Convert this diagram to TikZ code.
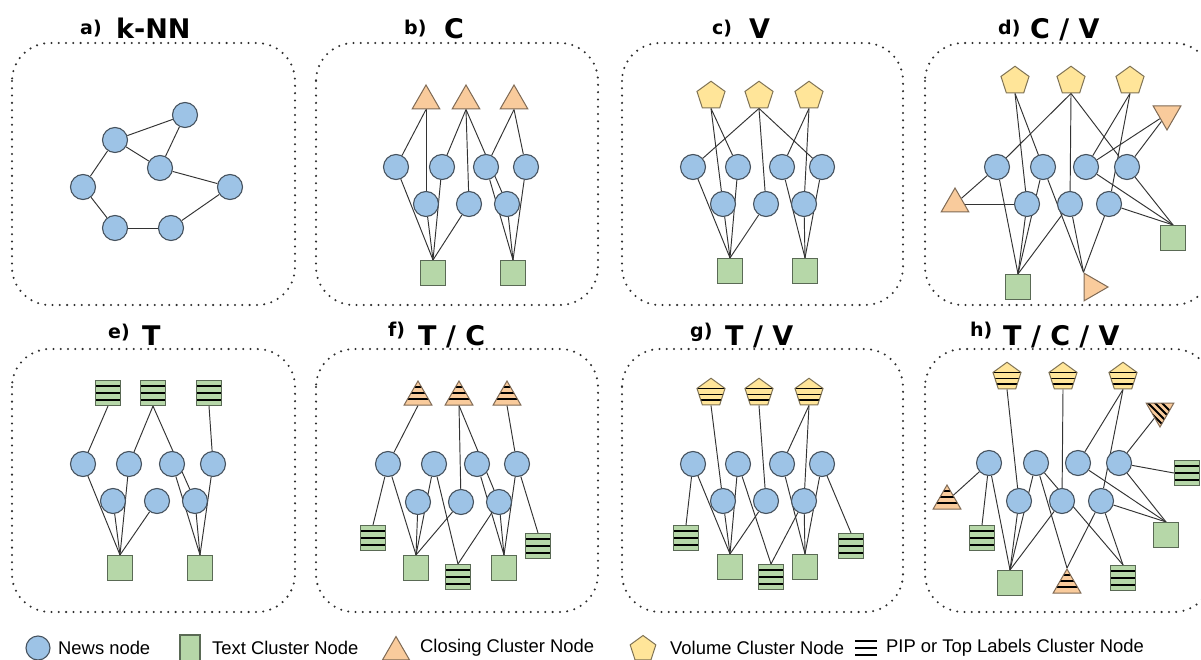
\documentclass[tikz,border=0pt]{standalone}
\usepackage{fontspec}
\setmainfont{Liberation Sans}
\newfontfamily\titlefont{DejaVu Sans}
\usetikzlibrary{shapes.geometric,backgrounds}

\definecolor{newsfill}{HTML}{9DC3E6}
\definecolor{newsline}{HTML}{46525E}
\definecolor{textfill}{HTML}{B6D7A8}
\definecolor{textline}{HTML}{5A6A55}
\definecolor{closefill}{HTML}{F9CB9C}
\definecolor{closeline}{HTML}{7F6A55}
\definecolor{volfill}{HTML}{FFE599}
\definecolor{volline}{HTML}{7F7355}
\definecolor{edgecol}{HTML}{333333}
\definecolor{framecol}{HTML}{2E2E2E}

\tikzset{
  news/.style={circle, minimum size=25pt, inner sep=0pt, fill=newsfill, draw=newsline, line width=1.1pt},
  textc/.style={rectangle, minimum size=25pt, inner sep=0pt, fill=textfill, draw=textline, line width=1.1pt},
  hstripes/.style={path picture={\foreach \d in {#1}
      \draw[black, line width=1.8pt] ([yshift=\d]path picture bounding box.west) -- ([yshift=\d]path picture bounding box.east);}},
  dstripes/.style={path picture={\foreach \k in {-14,-7,0,7,14}
      \draw[black, line width=1.8pt] ([shift={({\k-14},-14)}]path picture bounding box.center) -- ([shift={({\k+14},14)}]path picture bounding box.center);}},
  pip/.style={textc, hstripes={7pt,0pt,-7pt}},
  closing/.style={regular polygon, regular polygon sides=3, minimum size=32pt, inner sep=0pt, fill=closefill, draw=closeline, line width=1pt},
  volume/.style={regular polygon, regular polygon sides=5, minimum size=29.5pt, inner sep=0pt, fill=volfill, draw=volline, line width=1pt},
  tristripes/.style={hstripes={6pt,0pt,-6pt}},
  pentstripes/.style={hstripes={3pt,-3pt,-8.5pt}},
  link/.style={draw=edgecol, line width=0.95pt},
  panel/.style={draw=framecol, line width=2.3pt, line cap=round, dash pattern=on 0pt off 7.3pt, rounded corners=38pt},
  lbl/.style={font=\titlefont\bfseries\fontsize{19}{23}\selectfont, anchor=base west, inner sep=0pt},
  ttl/.style={font=\titlefont\bfseries\fontsize{27}{32}\selectfont, anchor=base west, inner sep=0pt},
  legend/.style={font=\fontsize{18.4}{22}\selectfont, anchor=west, inner sep=0pt}
}

\begin{document}
\begin{tikzpicture}[x=1pt,y=-1pt]
\useasboundingbox (0,0) rectangle (1201,660);

% ---------- panel frames ----------
\draw[panel] (12,43) rectangle (295,305);
\draw[panel] (316,43) rectangle (598,305);
\draw[panel] (622,43) rectangle (903,305);
\draw[panel] (925,43) rectangle (1212,305);
\draw[panel] (12,349) rectangle (295,612);
\draw[panel] (316,349) rectangle (598,612);
\draw[panel] (622,349) rectangle (903,612);
\draw[panel] (925,349) rectangle (1212,612);

% ---------- titles ----------
\node[lbl] (la) at (80,35) {a)};   \node[ttl] (ta) at (116,39) {k-NN};
\node[lbl] (lb) at (404,35) {b)};  \node[ttl] (tb) at (444,39) {C};
\node[lbl] (lc) at (712,35) {c)};  \node[ttl] (tc) at (749,39) {V};
\node[lbl] (ld) at (998,35) {d)};  \node[ttl] (td) at (1030,39) {C / V};
\node[lbl] (le) at (108,338) {e)}; \node[ttl] (te) at (142,345) {T};
\node[lbl] (lf) at (388,336) {f)}; \node[ttl] (tf) at (418,345) {T / C};
\node[lbl] (lg) at (690,337) {g)}; \node[ttl] (tg) at (725,345) {T / V};
\node[lbl] (lh) at (970,336) {h)}; \node[ttl] (th) at (1003,345) {T / C / V};

% ---------- a) k-NN ----------
\node[news] (a1) at (115,140) {};
\node[news] (a2) at (185,115) {};
\node[news] (a3) at (160,168) {};
\node[news] (a4) at (83,187) {};
\node[news] (a5) at (230,187) {};
\node[news] (a6) at (115,228) {};
\node[news] (a7) at (171,228) {};

% ---------- b) C ----------
\node[closing] (bt1) at (426,101) {};
\node[closing] (bt2) at (466,101) {};
\node[closing] (bt3) at (514,101) {};
\node[news] (bA1) at (396,167) {};
\node[news] (bA2) at (442,167) {};
\node[news] (bA3) at (486,167) {};
\node[news] (bA4) at (526,167) {};
\node[news] (bB1) at (426,204) {};
\node[news] (bB2) at (469,204) {};
\node[news] (bB3) at (507,204) {};
\node[textc] (bS1) at (433,273) {};
\node[textc] (bS2) at (513,273) {};

% ---------- c) V ----------
\node[volume] (cP1) at (711,96) {};
\node[volume] (cP2) at (759,96) {};
\node[volume] (cP3) at (809,96) {};
\node[news] (cA1) at (693,167) {};
\node[news] (cA2) at (738,167) {};
\node[news] (cA3) at (782,167) {};
\node[news] (cA4) at (822,167) {};
\node[news] (cB1) at (723,204) {};
\node[news] (cB2) at (766,204) {};
\node[news] (cB3) at (804,204) {};
\node[textc] (cS1) at (730,271) {};
\node[textc] (cS2) at (805,271) {};

% ---------- d) C / V ----------
\node[volume] (dP1) at (1015,81) {};
\node[volume] (dP2) at (1071,81) {};
\node[volume] (dP3) at (1130,81) {};
\node[closing, regular polygon rotate=180] (dT1) at (1167,114) {};
\node[closing] (dT2) at (955,204) {};
\node[closing, regular polygon rotate=-90] (dT3) at (1092,287) {};
\node[news] (dA1) at (997,167) {};
\node[news] (dA2) at (1043,167) {};
\node[news] (dA3) at (1086,167) {};
\node[news] (dA4) at (1127,167) {};
\node[news] (dB1) at (1027,204) {};
\node[news] (dB2) at (1070,204) {};
\node[news] (dB3) at (1109,204) {};
\node[textc] (dS1) at (1018,287) {};
\node[textc] (dS2) at (1173,238) {};

% ---------- e) T ----------
\node[pip] (eT1) at (108,393) {};
\node[pip] (eT2) at (153,393) {};
\node[pip] (eT3) at (209,393) {};
\node[news] (eA1) at (83,464) {};
\node[news] (eA2) at (129,464) {};
\node[news] (eA3) at (172,464) {};
\node[news] (eA4) at (213,464) {};
\node[news] (eB1) at (113,501) {};
\node[news] (eB2) at (157,501) {};
\node[news] (eB3) at (195,501) {};
\node[textc] (eS1) at (120,568) {};
\node[textc] (eS2) at (200,568) {};

% ---------- f) T / C ----------
\node[closing, tristripes] (fT1) at (418,397) {};
\node[closing, tristripes] (fT2) at (459,397) {};
\node[closing, tristripes] (fT3) at (507,397) {};
\node[news] (fA1) at (388,464) {};
\node[news] (fA2) at (434,464) {};
\node[news] (fA3) at (477,464) {};
\node[news] (fA4) at (517,464) {};
\node[news] (fB1) at (418,502) {};
\node[news] (fB2) at (461,502) {};
\node[news] (fB3) at (499,502) {};
\node[textc] (fG1) at (416,568) {};
\node[textc] (fG2) at (504,568) {};
\node[pip] (fP1) at (373,538) {};
\node[pip] (fP2) at (458,577) {};
\node[pip] (fP3) at (538,546) {};

% ---------- g) T / V ----------
\node[volume, pentstripes] (gV1) at (711,393) {};
\node[volume, pentstripes] (gV2) at (759,393) {};
\node[volume, pentstripes] (gV3) at (809,393) {};
\node[news] (gA1) at (693,464) {};
\node[news] (gA2) at (738,464) {};
\node[news] (gA3) at (782,464) {};
\node[news] (gA4) at (822,464) {};
\node[news] (gB1) at (723,501) {};
\node[news] (gB2) at (766,501) {};
\node[news] (gB3) at (804,501) {};
\node[textc] (gG1) at (730,567) {};
\node[textc] (gG2) at (805,567) {};
\node[pip] (gP1) at (686,538) {};
\node[pip] (gP2) at (771,577) {};
\node[pip] (gP3) at (851,546) {};

% ---------- h) T / C / V ----------
\node[volume, pentstripes] (hV1) at (1007,377) {};
\node[volume, pentstripes] (hV2) at (1063,377) {};
\node[volume, pentstripes] (hV3) at (1123,377) {};
\node[closing, tristripes] (hT1) at (947,501) {};
\node[closing, regular polygon rotate=180, dstripes] (hT2) at (1160,411) {};
\node[closing, tristripes] (hT3) at (1067,585) {};
\node[news] (hA1) at (989,463) {};
\node[news] (hA2) at (1036,463) {};
\node[news] (hA3) at (1078,463) {};
\node[news] (hA4) at (1119,463) {};
\node[news] (hB1) at (1019,501) {};
\node[news] (hB2) at (1062,501) {};
\node[news] (hB3) at (1101,501) {};
\node[textc] (hG1) at (1010,583) {};
\node[textc] (hG2) at (1166,535) {};
\node[pip] (hP1) at (982,538) {};
\node[pip] (hP2) at (1123,578) {};
\node[pip] (hP3) at (1187,473) {};

% ---------- legend ----------
\node[news, minimum size=24pt] (lgN) at (38,648) {};
\node[legend] (lgNt) at (58,648) {News node};
\node[textc, minimum width=20pt, minimum height=26pt] (lgT) at (190,648) {};
\node[legend] (lgTt) at (212,648) {Text Cluster Node};
\node[closing, minimum size=31pt] (lgC) at (396,652) {};
\node[legend] (lgCt) at (420,648) {Closing Cluster Node};
\node[volume, minimum size=27pt] (lgV) at (643,649) {};
\node[legend] (lgVt) at (670,648) {Volume Cluster Node};
\coordinate (lgP) at (866,648);
\foreach \o in {-7,0,7}
  \draw[black, line width=1.5pt] ([shift={(-11,\o)}]lgP) -- ([shift={(11,\o)}]lgP);
\node[legend] (lgPt) at (886,648) {PIP or Top Labels Cluster Node};

% ---------- connectors (behind the nodes) ----------
\begin{scope}[on background layer]
\fill[white] (0,0) rectangle (1201,660);
\foreach \u/\v in {a1/a2, a1/a3, a2/a3, a1/a4, a3/a5, a4/a6, a6/a7, a7/a5}
  \draw[link] (\u) -- (\v);
\foreach \u/\v in {bt1.south/bA1, bt1.south/bB1, bt2.south/bA2, bt2.south/bB2, bt2.south/bB3,
    bt3.south/bA3, bt3.south/bA4, bS1.north/bA1, bS1.north/bB1, bS1.north/bA2, bS1.north/bB2,
    bS2.north/bA3, bS2.north/bB3, bS2.north/bA4}
  \draw[link] (\u) -- (\v);
\foreach \u/\v in {cP1.south/cB1, cP1.south/cA2, cP2.south/cA1, cP2.south/cB2, cP2.south/cA4,
    cP3.south/cA3, cP3.south/cB3, cS1.north/cA1, cS1.north/cB1, cS1.north/cA2, cS1.north/cB2,
    cS2.north/cA3, cS2.north/cB3, cS2.north/cA4}
  \draw[link] (\u) -- (\v);
\foreach \u/\v in {dP1.south/dB1, dP1.south/dA2, dA2/dT3.corner 2, dP2.south/dA1, dP2.south/dB2,
    dP2.south/dA4, dP3.south/dA3, dP3.south/dB3, dT1/dA3, dT1/dA4, dT2/dA1, dT2/dB1,
    dS1.north/dA1, dS1.north/dB1, dS1.north/dA2, dS1.north/dB2, dT3.corner 2/dB2,
    dT3.corner 2/dB3, dS2.north/dA3, dS2.north/dA4, dS2.north/dB3}
  \draw[link] (\u) -- (\v);
\foreach \u/\v in {eT1.south/eA1, eT2.south/eA2, eT2.south/eB3, eT3.south/eA4,
    eS1.north/eA1, eS1.north/eB1, eS1.north/eA2, eS1.north/eB2,
    eS2.north/eA3, eS2.north/eB3, eS2.north/eA4}
  \draw[link] (\u) -- (\v);
\foreach \u/\v in {fT1.south/fA1, fT2.south/fB2, fT2.south/fB3, fT3.south/fA4, fP1.north/fA1,
    fG1.north/fA1, fG1.north/fB1, fG1.north/fA2, fG1.north/fB2, fP2.north/fA2, fP2.north/fB3,
    fG2.north/fA3, fG2.north/fB3, fG2.north/fA4, fP3.north/fA4}
  \draw[link] (\u) -- (\v);
\foreach \u/\v in {gV1.south/gB1, gV2.south/gB2, gV3.south/gA3, gV3.south/gB3, gP1.north/gA1,
    gG1.north/gA1, gG1.north/gB1, gG1.north/gA2, gG1.north/gB2, gP2.north/gA2, gP2.north/gB3,
    gG2.north/gA3, gG2.north/gB3, gG2.north/gA4, gP3.north/gA4}
  \draw[link] (\u) -- (\v);
\foreach \u/\v in {hV1.south/hB1, hV2.south/hB2, hV3.south/hA3, hV3.south/hB3, hT2/hA4, hT1/hA1,
    hP1.north/hA1, hG1.north/hA1, hG1.north/hB1, hG1.north/hA2, hG1.north/hB2,
    hT3.corner 1/hA2, hT3.corner 1/hB3, hP2.north/hA2, hP2.north/hB3,
    hG2.north/hA3, hG2.north/hA4, hG2.north/hB3, hP3.west/hA4}
  \draw[link] (\u) -- (\v);
\end{scope}
\end{tikzpicture}
\end{document}
